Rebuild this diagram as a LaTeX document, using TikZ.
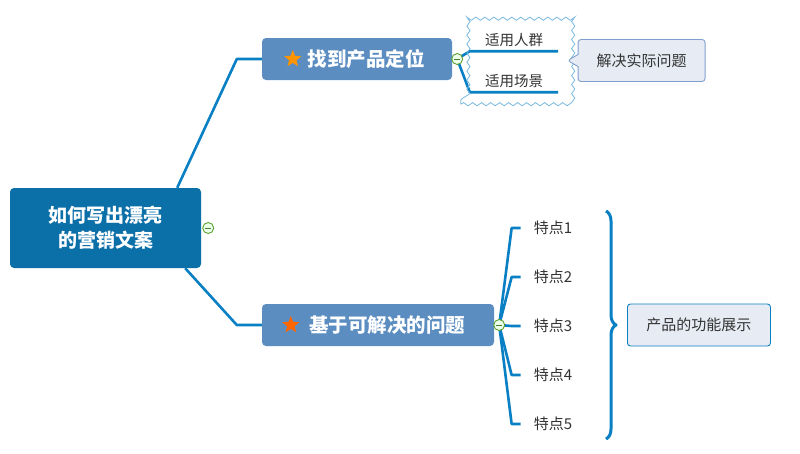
\documentclass[tikz,border=0pt]{standalone}
\usepackage{fontspec}
\setmainfont{Noto Sans CJK SC}
\usetikzlibrary{positioning,backgrounds,fit,shapes.geometric,shapes.callouts,decorations.pathmorphing,decorations.pathreplacing}
\definecolor{rootblue}{HTML}{0B6FA8}
\definecolor{topicblue}{HTML}{5B8DC1}
\definecolor{linkblue}{HTML}{0A80C4}
\definecolor{notefill}{HTML}{E7ECF4}
\definecolor{noteline}{HTML}{7FA0CE}
\definecolor{txt}{HTML}{333333}
\definecolor{tglgreen}{HTML}{5DA130}
\tikzset{
  rootbox/.style={fill=rootblue, rounded corners=4pt, text=white, font=\fontsize{19}{25}\selectfont\bfseries, align=center, minimum width=191pt, minimum height=80pt},
  topic/.style={fill=topicblue, rounded corners=4pt, text=white, font=\fontsize{19.5}{23}\selectfont\bfseries, minimum height=42pt, inner sep=0pt},
  subtopic/.style={font=\fontsize{14.5}{17}\selectfont, text=txt, minimum width=88pt, minimum height=22pt, inner sep=0pt},
  feat/.style={font=\fontsize{15}{18}\selectfont, text=txt, inner sep=0pt},
  note/.style={fill=notefill, draw=noteline, line width=0.9pt, rounded corners=3pt, font=\fontsize{15}{18}\selectfont, text=txt, minimum height=42pt, minimum width=127pt},
  starmark/.style={star, star points=5, star point ratio=2.3, minimum size=18pt, inner sep=0pt},
  toggle/.style={circle, draw=tglgreen, fill=green!8, minimum size=11pt, inner sep=0pt, line width=0.9pt,
    path picture={\draw[tglgreen!80!black, line width=1pt] ([xshift=2.4pt]path picture bounding box.west) -- ([xshift=-2.4pt]path picture bounding box.east);}},
  link/.style={draw=linkblue, line width=2.6pt, line join=round},
  wavy/.style={draw=linkblue!55, line width=0.8pt, decorate, decoration={snake, amplitude=1.6pt, segment length=9pt}}}

\begin{document}
\begin{tikzpicture}[x=1pt, y=-1pt]
  \useasboundingbox (0,0) rectangle (800,453);
  % central topic and main branches
  \node[rootbox] (root) at (105.5,228) {如何写出漂亮\\的营销文案};
  \node[topic, minimum width=190pt] (pos) at (357,59) {\hspace*{18pt}找到产品定位};
  \node[topic, minimum width=232pt] (prob) at (378,325) {\hspace*{18pt}基于可解决的问题};
  \node[starmark, fill=orange!85!yellow] at ([xshift=31pt]pos.west) {};
  \node[starmark, fill=orange!80!red] at ([xshift=29pt]prob.west) {};

  % first branch: target groups
  \node[subtopic] (crowd) at (514,40) {适用人群};
  \node[subtopic] (scene) at (514,81) {适用场景};
  \node[wavy, fit=(crowd)(scene), inner xsep=9pt, inner ysep=12pt] (grp) {};
  \node[note, rectangle callout, callout absolute pointer={(grp.east)}, callout pointer width=12pt, right=10pt of grp] (solve) {解决实际问题};

  % second branch: features
  \foreach \i in {1,...,5}
    \node[feat] (f\i) at (553,179+49*\i) {特点\i};
  \coordinate (brtop) at (606,211);
  \coordinate (brbot) at (606,439);
  \coordinate (brtip) at (617,325);
  \node[note, draw=linkblue, minimum width=143pt, right=10pt of brtip] (show) {产品的功能展示};

  % collapse markers
  \node[toggle] (t0) at ([xshift=7pt]root.east) {};
  \node[toggle] (t1) at ([xshift=5pt]pos.east) {};
  \node[toggle] (t2) at ([xshift=5pt]prob.east) {};

  \begin{scope}[on background layer]
    \fill[white] (0,0) rectangle (800,453);
    \draw[link] ([xshift=-24pt]root.north east) -- ([xshift=-25pt]pos.west) -- (pos.west);
    \draw[link] ([xshift=-16pt]root.south east) -- ([xshift=-25pt]prob.west) -- (prob.west);
    \draw[link] (t1.center) -- (crowd.south west) -- (crowd.south east);
    \draw[link] (t1.center) -- (scene.south west) -- (scene.south east);
    \foreach \i in {1,...,5}
      \draw[link] (t2.center) -- ([xshift=-22pt]f\i.west) -- ([xshift=-13pt]f\i.west);
  \end{scope}
  \draw[link, line width=3pt, decorate, decoration={brace, amplitude=10pt}] (brtop) -- (brbot);
\end{tikzpicture}
\end{document}
